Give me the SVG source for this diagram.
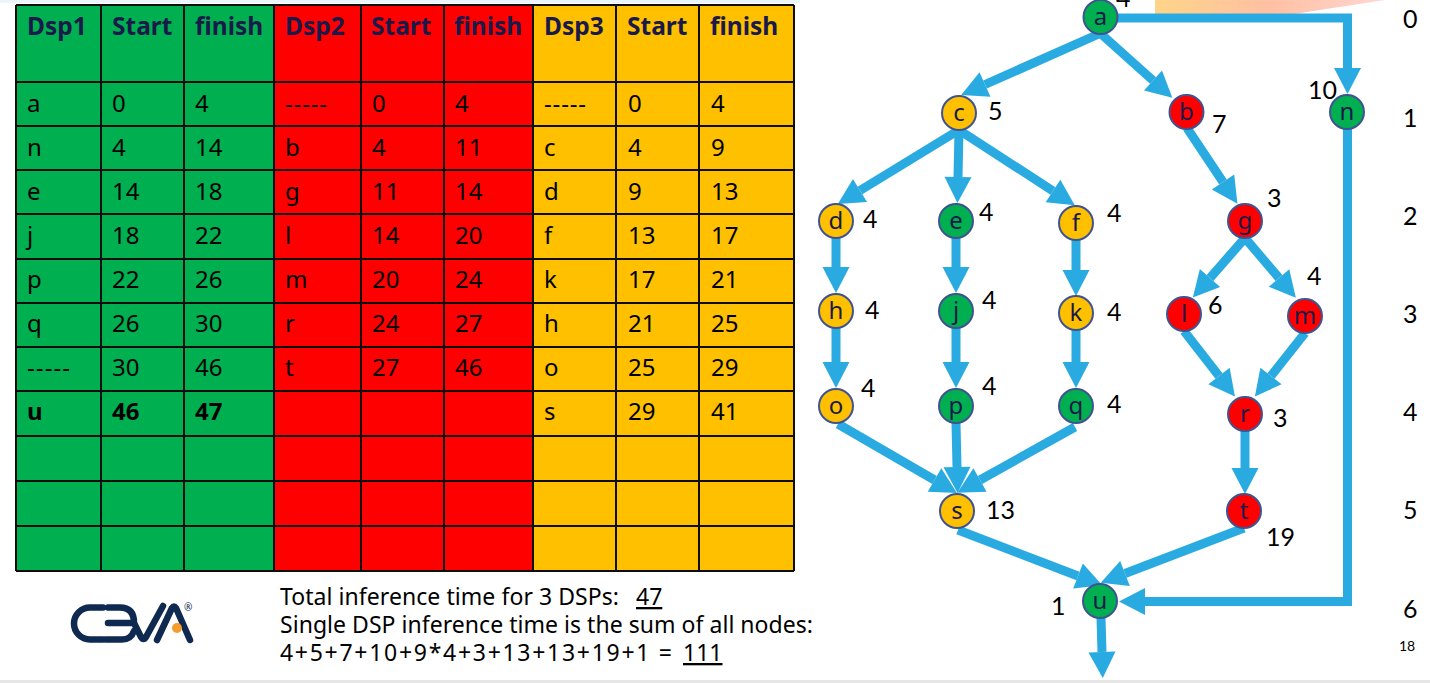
<svg xmlns="http://www.w3.org/2000/svg" width="1430" height="683" viewBox="0 0 1430 683">
<style>
.cell{fill:none;stroke:#0d0d0d;stroke-width:2}
.h{font:bold 24.5px "Noto Sans","DejaVu Sans",sans-serif;fill:#1a1a4a}
.t{font:24px "Noto Sans","DejaVu Sans",sans-serif;fill:#000}
.b{font:bold 24px "Noto Sans","DejaVu Sans",sans-serif;fill:#000}
.w{font:25px "Lato","Noto Sans",sans-serif;fill:#000}
.f{font:23px "Noto Sans","DejaVu Sans",sans-serif;fill:#000}
.n{stroke:#3f5391;stroke-width:2}
.l{font:24px "Noto Sans","DejaVu Sans",sans-serif;fill:#1a1a4a;text-anchor:middle}
.c{fill:none;stroke:#29abe2;stroke-width:9;marker-end:url(#ah)}
.g{fill:#00b050}.r{fill:#ff0000}.y{fill:#ffc000}
.logo{fill:none;stroke:#0e2a50;stroke-width:6.5;stroke-linecap:round;stroke-linejoin:round}
</style>
<defs>
<marker id="ah" markerUnits="userSpaceOnUse" markerWidth="28" markerHeight="28" refX="0" refY="14" orient="auto" overflow="visible"><path d="M0,0.5 L26,14 L0,27.5 Z" fill="#29abe2"/></marker>
<linearGradient id="bg" x1="0" x2="1" y1="0" y2="0"><stop offset="0" stop-color="#fed488"/><stop offset="0.5" stop-color="#ffc0a4"/><stop offset="1" stop-color="#ffd6d2"/></linearGradient>
</defs>
<rect width="1430" height="683" fill="#fff"/>
<rect width="800" height="3" fill="#eaf6fc"/>
<rect y="680" width="1430" height="3" fill="#e6e6e6"/>
<path d="M1155,0 H1385 Q1300,13 1295,14 H1155 Z" fill="url(#bg)"/>
<g id="table">
<rect x="16" y="5" width="258" height="566" fill="#00b050"/>
<rect x="274" y="5" width="259" height="566" fill="#ff0000"/>
<rect x="533" y="5" width="261" height="566" fill="#ffc000"/>
<path class="cell" d="M16,5V571M101,5V571M184,5V571M274,5V571M361,5V571M444,5V571M533,5V571M616,5V571M699,5V571M794,5V571M16,5H794M16,82H794M16,126H794M16,170H794M16,214H794M16,259H794M16,303H794M16,347H794M16,391H794M16,436H794M16,481H794M16,526H794M16,571H794"/>
<g class="h"><text x="27" y="35">Dsp1</text><text x="112" y="35">Start</text><text x="195" y="35">finish</text><text x="285" y="35">Dsp2</text><text x="371" y="35">Start</text><text x="454" y="35">finish</text><text x="544" y="35">Dsp3</text><text x="627" y="35">Start</text><text x="710" y="35">finish</text></g>
<g class="t">
<text x="27" y="112">a</text><text x="112" y="112">0</text><text x="195" y="112">4</text><text x="285" y="112" textLength="42">-----</text><text x="372" y="112">0</text><text x="455" y="112">4</text><text x="544" y="112" textLength="42">-----</text><text x="628" y="112">0</text><text x="711" y="112">4</text>
<text x="27" y="156">n</text><text x="112" y="156">4</text><text x="195" y="156">14</text><text x="285" y="156">b</text><text x="372" y="156">4</text><text x="455" y="156">11</text><text x="544" y="156">c</text><text x="628" y="156">4</text><text x="711" y="156">9</text>
<text x="27" y="200">e</text><text x="112" y="200">14</text><text x="195" y="200">18</text><text x="285" y="200">g</text><text x="372" y="200">11</text><text x="455" y="200">14</text><text x="544" y="200">d</text><text x="628" y="200">9</text><text x="711" y="200">13</text>
<text x="27" y="244">j</text><text x="112" y="244">18</text><text x="195" y="244">22</text><text x="285" y="244">l</text><text x="372" y="244">14</text><text x="455" y="244">20</text><text x="544" y="244">f</text><text x="628" y="244">13</text><text x="711" y="244">17</text>
<text x="27" y="288">p</text><text x="112" y="288">22</text><text x="195" y="288">26</text><text x="285" y="288">m</text><text x="372" y="288">20</text><text x="455" y="288">24</text><text x="544" y="288">k</text><text x="628" y="288">17</text><text x="711" y="288">21</text>
<text x="27" y="332">q</text><text x="112" y="332">26</text><text x="195" y="332">30</text><text x="285" y="332">r</text><text x="372" y="332">24</text><text x="455" y="332">27</text><text x="544" y="332">h</text><text x="628" y="332">21</text><text x="711" y="332">25</text>
<text x="27" y="376" textLength="43">-----</text><text x="112" y="376">30</text><text x="195" y="376">46</text><text x="285" y="376">t</text><text x="372" y="376">27</text><text x="455" y="376">46</text><text x="544" y="376">o</text><text x="628" y="376">25</text><text x="711" y="376">29</text>
<text x="544" y="420">s</text><text x="628" y="420">29</text><text x="711" y="420">41</text>
</g>
<g class="b"><text x="27" y="420">u</text><text x="112" y="420">46</text><text x="195" y="420">47</text></g>
</g>
<g id="logo">
<path class="logo" d="M103,607.5 H90 A16,16 0 0 0 90,639.5 H103"/>
<path class="logo" d="M108,607.5 H120 Q134,607.5 134,623 H108 M106,639.5 H122 Q131,639.5 134,631"/>
<path class="logo" d="M134,623 L141,637 Q143.500,641 146,637 L163,606"/>
<path class="logo" d="M157,640 L172,608 Q174,605 176,608 L190,640"/>
<circle cx="177" cy="628" r="5" fill="#f59c2e"/>
<text x="184" y="611" style="font:10px 'Noto Sans',sans-serif;fill:#0e2a50">®</text>
</g>
<g id="note" class="f">
<text x="280" y="605" textLength="339">Total inference time for 3 DSPs:</text>
<text x="636" y="605" text-decoration="underline">47</text>
<text x="280" y="633" textLength="533">Single DSP inference time is the sum of all nodes:</text>
<text x="280" y="661" textLength="392">4+5+7+10+9*4+3+13+13+19+1 =</text>
<text x="683" y="661" text-decoration="underline">111</text>
</g>
<g id="connectors">
<path class="c" d="M1101,33 L985,84.500"/>
<path class="c" d="M1100,33 L1153,80.500"/>
<path class="c" d="M1117,18 H1347.500 V68"/>
<path class="c" d="M959,130 L860,190.500"/>
<path class="c" d="M959,130 L958,177"/>
<path class="c" d="M959,130 L1053,191"/>
<path class="c" d="M1187,128 L1223,182"/>
<path class="c" d="M836,238 V267"/>
<path class="c" d="M956,238 V267"/>
<path class="c" d="M1076,240 V270"/>
<path class="c" d="M836,328 V362"/>
<path class="c" d="M956,328 V362"/>
<path class="c" d="M1076,330 V362"/>
<path class="c" d="M1245,238 L1210,278"/>
<path class="c" d="M1245,238 L1279,278"/>
<path class="c" d="M1184,331 L1219,376"/>
<path class="c" d="M1305,333 L1271,376"/>
<path class="c" d="M1245,431 V468"/>
<path class="c" d="M838,424 L934.500,480"/>
<path class="c" d="M956,423 L957,467"/>
<path class="c" d="M1075,427 L980,480"/>
<path class="c" d="M958,530 L1078,576"/>
<path class="c" d="M1244,528 L1125,573.500"/>
<path class="c" d="M1347.500,129 V601.500 H1145"/>
<path class="c" d="M1101,618 L1102,652"/>
</g>
<g id="node-a"><circle class="n g" cx="1100.500" cy="17" r="17"/><text class="l" x="1100.500" y="25">a</text></g>
<g id="node-b"><circle class="n r" cx="1186.500" cy="112" r="17"/><text class="l" x="1186.500" y="120">b</text></g>
<g id="node-c"><circle class="n y" cx="959" cy="113" r="17"/><text class="l" x="959" y="121">c</text></g>
<g id="node-n"><circle class="n g" cx="1347" cy="112" r="17"/><text class="l" x="1347" y="120">n</text></g>
<g id="node-d"><circle class="n y" cx="836" cy="221" r="17"/><text class="l" x="836" y="229">d</text></g>
<g id="node-e"><circle class="n g" cx="956" cy="221" r="17"/><text class="l" x="956" y="229">e</text></g>
<g id="node-f"><circle class="n y" cx="1076" cy="223" r="17"/><text class="l" x="1076" y="231">f</text></g>
<g id="node-g"><circle class="n r" cx="1245" cy="221" r="17"/><text class="l" x="1245" y="229">g</text></g>
<g id="node-h"><circle class="n y" cx="836" cy="311" r="17"/><text class="l" x="836" y="319">h</text></g>
<g id="node-j"><circle class="n g" cx="956" cy="311" r="17"/><text class="l" x="956" y="319">j</text></g>
<g id="node-k"><circle class="n y" cx="1076" cy="313" r="17"/><text class="l" x="1076" y="321">k</text></g>
<g id="node-l"><circle class="n r" cx="1184" cy="314" r="17"/><text class="l" x="1184" y="322">l</text></g>
<g id="node-m"><circle class="n r" cx="1305" cy="316" r="17"/><text class="l" x="1305" y="324">m</text></g>
<g id="node-o"><circle class="n y" cx="836" cy="406" r="17"/><text class="l" x="836" y="414">o</text></g>
<g id="node-p"><circle class="n g" cx="956" cy="406" r="17"/><text class="l" x="956" y="414">p</text></g>
<g id="node-q"><circle class="n g" cx="1076" cy="406" r="17"/><text class="l" x="1076" y="414">q</text></g>
<g id="node-r"><circle class="n r" cx="1245" cy="414" r="17"/><text class="l" x="1245" y="422">r</text></g>
<g id="node-s"><circle class="n y" cx="957" cy="511" r="17"/><text class="l" x="957" y="519">s</text></g>
<g id="node-t"><circle class="n r" cx="1244" cy="511" r="17"/><text class="l" x="1244" y="519">t</text></g>
<g id="node-u"><circle class="n g" cx="1100" cy="601" r="17"/><text class="l" x="1100" y="609">u</text></g>
<g id="weights" class="w">
<text x="1116" y="7">4</text><text x="988" y="120">5</text><text x="1212" y="133">7</text><text x="1308" y="99">10</text>
<text x="863" y="228">4</text><text x="979" y="221">4</text><text x="1107" y="222">4</text><text x="1267" y="207">3</text>
<text x="865" y="319">4</text><text x="982" y="309">4</text><text x="1107" y="321">4</text><text x="1208" y="314">6</text><text x="1307" y="285">4</text>
<text x="861" y="397">4</text><text x="982" y="395">4</text><text x="1107" y="413">4</text><text x="1273" y="427">3</text>
<text x="986" y="519">13</text><text x="1266" y="546">19</text><text x="1051" y="615">1</text>
</g>
<g id="levels" class="w">
<text x="1403" y="28">0</text><text x="1403" y="127">1</text><text x="1403" y="225">2</text><text x="1403" y="323">3</text><text x="1403" y="421">4</text><text x="1403" y="519">5</text><text x="1403" y="618">6</text>
</g>
<text x="1399" y="651" style="font:14px Lato,sans-serif;fill:#000">18</text>
</svg>
